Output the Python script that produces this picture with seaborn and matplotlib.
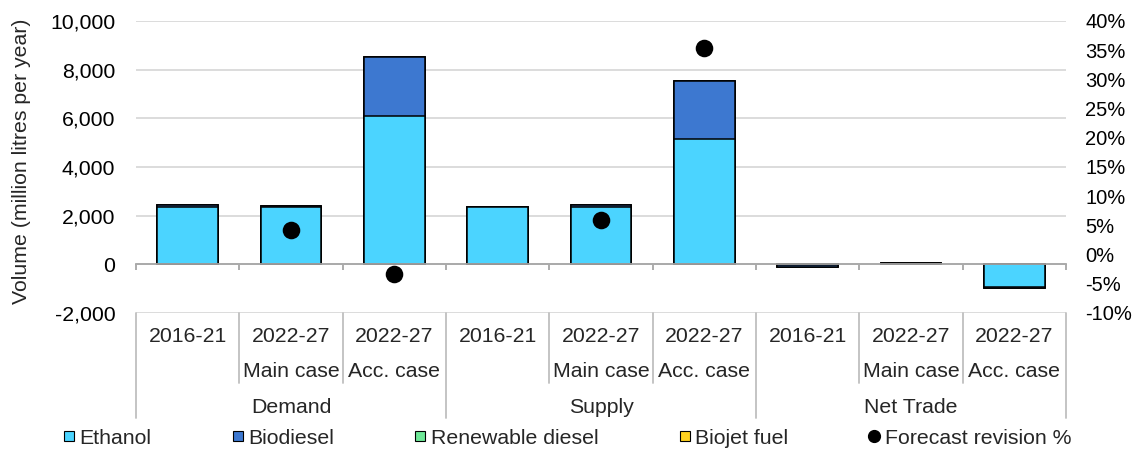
import numpy as np
import pandas as pd
import matplotlib
matplotlib.use("Agg")
import matplotlib.pyplot as plt
import seaborn as sns
from matplotlib.ticker import FuncFormatter, MultipleLocator, FixedLocator
from matplotlib.lines import Line2D
from matplotlib.transforms import blended_transform_factory

# ---- data (million litres per year; revision in %) ----
groups = ["Demand", "Supply", "Net Trade"]
periods = ["2016-21", "2022-27", "2022-27",
           "2016-21", "2022-27", "2022-27",
           "2016-21", "2022-27", "2022-27"]
cases = ["", "Main case", "Acc. case",
         "", "Main case", "Acc. case",
         "", "Main case", "Acc. case"]
ethanol = [2340, 2360, 6090, 2340, 2340, 5160, -10, 10, -925]
biodiesel = [115, 45, 2420, 25, 105, 2380, -80, 30, -40]
renewable_diesel = [0, 0, 0, 0, 0, 0, 0, 0, 0]
biojet_fuel = [0, 0, 0, 0, 0, 0, 0, 0, 0]
forecast_revision = [np.nan, 4.2, -3.4, np.nan, 5.9, 35.3, np.nan, np.nan, np.nan]

series_names = ["Ethanol", "Biodiesel", "Renewable diesel", "Biojet fuel"]
series_values = [ethanol, biodiesel, renewable_diesel, biojet_fuel]
series_colors = ["#4bd4ff", "#3d78d0", "#6ee897", "#ffd21f"]

FONT = 15.3
FONT_R = 14.5
sns.set_theme(style="white")
plt.rcParams["font.family"] = ["Liberation Sans", "DejaVu Sans"]
plt.rcParams["font.size"] = FONT

fig = plt.figure(figsize=(11.41, 4.54), dpi=100)
ax = fig.add_axes([136 / 1141, 1 - 313 / 454, 930 / 1141, 292 / 454])

pos = np.arange(len(periods))
cum = np.cumsum(np.array(series_values, dtype=float), axis=0)

# stacked bars: draw cumulative totals from the top layer down
for i in reversed(range(len(series_names))):
    df = pd.DataFrame({"pos": pos, "val": cum[i]})
    sns.barplot(data=df, x="pos", y="val", native_scale=True, ax=ax,
                color=series_colors[i], saturation=1, width=0.59,
                edgecolor="black", linewidth=1.1, errorbar=None, zorder=2)

ax.set_xlim(-0.5, 8.5)
ax.set_ylim(-2000, 10000)
ax.yaxis.set_major_locator(MultipleLocator(2000))
ax.yaxis.set_major_formatter(FuncFormatter(lambda v, p: f"{v:,.0f}"))
ax.set_axisbelow(True)
ax.grid(axis="y", color="#d9d9d9", linewidth=1.3)
ax.grid(axis="x", visible=False)
for s in ["top", "left", "right"]:
    ax.spines[s].set_visible(False)
ax.spines["bottom"].set_position(("data", 0))
ax.spines["bottom"].set_color("#a6a6a6")
ax.spines["bottom"].set_linewidth(1.3)
ax.xaxis.set_major_locator(FixedLocator(np.arange(-0.5, 9.0, 1.0)))
ax.tick_params(axis="x", which="major", direction="out", length=4, width=1.3,
               color="#a6a6a6", labelbottom=False, bottom=True)
ax.tick_params(axis="y", length=0, pad=15, labelsize=FONT, colors="black")
ax.set_xlabel("")
ax.set_ylabel("Volume (million litres per year)", fontsize=FONT)
ax.yaxis.set_label_coords(-0.113, 0.519)

# forecast revision on the secondary axis
ax2 = ax.twinx()
sns.scatterplot(x=pos, y=forecast_revision, ax=ax2, color="black", s=160,
                linewidth=0, zorder=5, legend=False)
ax2.set_ylim(-10, 40)
ax2.yaxis.set_major_locator(MultipleLocator(5))
ax2.yaxis.set_major_formatter(FuncFormatter(lambda v, p: f"{v:.0f}%"))
ax2.tick_params(axis="y", length=0, pad=14, labelsize=FONT_R, colors="black")
for s in ax2.spines.values():
    s.set_visible(False)
ax2.grid(False)
ax2.set_xlim(-0.5, 8.5)

# multi-level category labels below the plot
tr = blended_transform_factory(ax.transData, ax.transAxes)
line_kw = dict(color="#bfbfbf", linewidth=1.3, clip_on=False, transform=tr)
for b in np.arange(-0.5, 9.0, 1.0):
    long_line = (round(b + 0.5) % 3 == 0)
    y_end = -0.36 if long_line else -0.24
    ax.add_line(Line2D([b, b], [0, y_end], **line_kw))
for p, per, case in zip(pos, periods, cases):
    ax.text(p, -0.079, per, transform=tr, ha="center", va="center", fontsize=FONT)
    if case:
        ax.text(p, -0.199, case, transform=tr, ha="center", va="center", fontsize=FONT)
for g, name in enumerate(groups):
    ax.text(3 * g + 1, -0.322, name, transform=tr, ha="center", va="center", fontsize=FONT)

# legend
handles = [Line2D([], [], marker="s", linestyle="none", markersize=7.5,
                  markerfacecolor=c, markeredgecolor="black", markeredgewidth=0.8)
           for c in series_colors]
handles.append(Line2D([], [], marker="o", linestyle="none", markersize=8.5,
                      markerfacecolor="black", markeredgecolor="black"))
labels = series_names + ["Forecast revision %"]
fig.legend(handles, labels, loc="center", bbox_to_anchor=(0.497, 1 - 438 / 454),
           ncol=5, frameon=False, fontsize=FONT, handlelength=0.6,
           handletextpad=0.2, columnspacing=3.75, borderaxespad=0)

fig.savefig("out.png", dpi=100)
